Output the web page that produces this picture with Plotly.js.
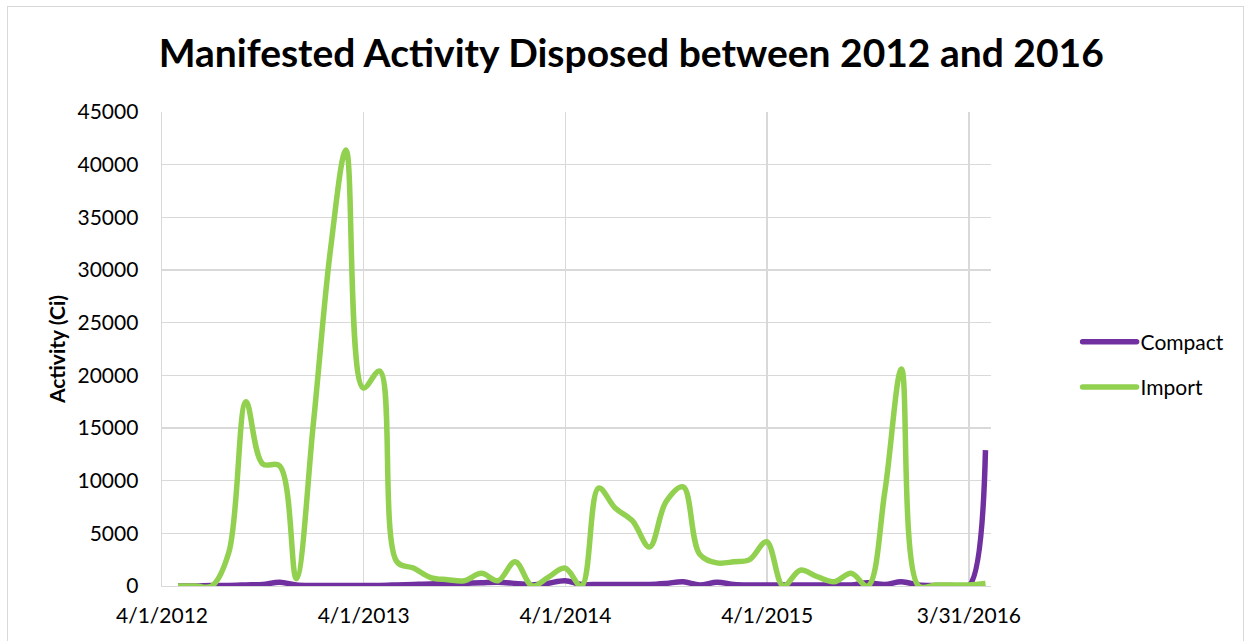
<!DOCTYPE html>
<html>
<head>
<meta charset="utf-8">
<script src="https://cdn.plot.ly/plotly-3.0.1.min.js"></script>
<style>
  html, body { margin: 0; padding: 0; background: #ffffff; }
  #wrap { position: relative; width: 1250px; height: 641px; overflow: hidden; }
  #chart { position: absolute; left: 0; top: 0; width: 1250px; height: 641px; }
  #frame { position: absolute; left: 7px; top: 6px; width: 1235px; height: 650px; border: 1px solid #d9d9d9; pointer-events: none; }
</style>
</head>
<body>
<div id="wrap">
  <div id="chart"></div>
  <div id="frame"></div>
</div>
<script>
// Month-end reporting dates
const dates = [
  '2012-04-30','2012-05-31','2012-06-30','2012-07-31','2012-08-31','2012-09-30','2012-10-31','2012-11-30','2012-12-31',
  '2013-01-31','2013-02-28','2013-03-31','2013-04-30','2013-05-31','2013-06-30','2013-07-31','2013-08-31','2013-09-30','2013-10-31','2013-11-30','2013-12-31',
  '2014-01-31','2014-02-28','2014-03-31','2014-04-30','2014-05-31','2014-06-30','2014-07-31','2014-08-31','2014-09-30','2014-10-31','2014-11-30','2014-12-31',
  '2015-01-31','2015-02-28','2015-03-31','2015-04-30','2015-05-31','2015-06-30','2015-07-31','2015-08-31','2015-09-30','2015-10-31','2015-11-30','2015-12-31',
  '2016-01-31','2016-02-29','2016-03-31','2016-04-30'
];

// Activity (Ci)
const compact = [
  0, 0, 50, 50, 100, 150, 350, 100, 50,
  50, 50, 50, 50, 100, 150, 200, 200, 250, 300, 350, 250,
  100, 250, 500, 150, 150, 150, 150, 150, 250, 400, 100, 350,
  150, 100, 100, 100, 100, 100, 100, 100, 300, 150, 400, 100,
  50, 50, 0, 12900
];
const importAct = [
  0, 0, 0, 3200, 17500, 11600, 11400, 700, 15500,
  32000, 41400, 18800, 20400, 2300, 1700, 800, 600, 500, 1200, 500, 2300,
  0, 800, 1700, 0, 9300, 7400, 6200, 3700, 8000, 9400, 3000, 2200,
  2300, 2500, 4200, 0, 1500, 900, 400, 1200, 0, 9000, 20600, 0,
  100, 100, 100, 250
];

const seriesNames = ['Compact', 'Import'];
const tickDates = ['2012-04-01', '2013-04-01', '2014-04-01', '2015-04-01', '2016-03-31'];
const tickLabels = ['4/1/2012', '4/1/2013', '4/1/2014', '4/1/2015', '3/31/2016'];
const yTicks = [0, 5000, 10000, 15000, 20000, 25000, 30000, 35000, 40000, 45000];
const yTickLabels = ['0', '5000', '10000', '15000', '20000', '25000', '30000', '35000', '40000', '45000'];

const FONT = 'Lato, "Open Sans", sans-serif';

const traces = [
  {
    x: dates, y: compact, name: seriesNames[0], type: 'scatter', mode: 'lines',
    line: { color: '#7030A0', width: 5.5, shape: 'spline', smoothing: 1 },
    legendgroup: 'a', cliponaxis: false, hoverinfo: 'skip'
  },
  {
    x: dates, y: importAct, name: seriesNames[1], type: 'scatter', mode: 'lines',
    line: { color: '#92D050', width: 5.5, shape: 'spline', smoothing: 1 },
    legendgroup: 'b', cliponaxis: false, hoverinfo: 'skip'
  }
];

const layout = {
  width: 1250, height: 641,
  margin: { l: 162, r: 259, t: 112, b: 55, pad: 0 },
  paper_bgcolor: 'rgba(0,0,0,0)', plot_bgcolor: '#ffffff',
  font: { family: FONT, size: 21, color: '#000000' },
  title: {
    text: '<b>Manifested Activity Disposed between 2012 and 2016</b>',
    font: { family: FONT, size: 39, color: '#000000' },
    x: 0.505, xanchor: 'center', xref: 'container',
    y: 0.917, yanchor: 'middle', yref: 'container'
  },
  xaxis: {
    type: 'date',
    range: ['2012-04-01', '2016-05-10'],
    tickmode: 'array', tickvals: tickDates, ticktext: tickLabels,
    showgrid: true, gridcolor: '#d9d9d9', gridwidth: 1.4,
    showline: true, linecolor: '#d9d9d9', linewidth: 1.4,
    zeroline: false,
    ticks: 'outside', ticklen: 10, tickcolor: 'rgba(0,0,0,0)',
    tickfont: { family: FONT, size: 21, color: '#000000' },
    fixedrange: true
  },
  yaxis: {
    range: [0, 45000],
    tickmode: 'array', tickvals: yTicks, ticktext: yTickLabels,
    showgrid: true, gridcolor: '#d9d9d9', gridwidth: 1.4,
    showline: true, linecolor: '#d9d9d9', linewidth: 1.4,
    zeroline: false,
    ticks: 'outside', ticklen: 18, tickcolor: 'rgba(0,0,0,0)',
    tickfont: { family: FONT, size: 21, color: '#000000' },
    title: { text: '<b>Activity (Ci)</b>', font: { family: FONT, size: 21, color: '#000000' }, standoff: 6 },
    fixedrange: true
  },
  showlegend: true,
  legend: {
    x: 1.096, xanchor: 'left', y: 0.467, yanchor: 'middle',
    traceorder: 'grouped', tracegroupgap: 15,
    itemwidth: 60,
    font: { family: FONT, size: 21, color: '#000000' },
    bgcolor: 'rgba(0,0,0,0)', borderwidth: 0
  },
  hovermode: false
};

Plotly.newPlot('chart', traces, layout, { displayModeBar: false, staticPlot: true }).then(function (gd) {
  // Lengthen legend line samples so they sit right before the text (as in the original)
  const items = gd.querySelectorAll('.legend .traces');
  items.forEach(function (it) {
    const txt = it.querySelector('.legendtext');
    const tx = txt ? parseFloat(txt.getAttribute('x')) : 40;
    it.querySelectorAll('.legendlines path').forEach(function (p) {
      p.setAttribute('d', 'M' + (tx - 58) + ',0h54');
      p.style.strokeLinecap = 'round';
    });
  });
});
</script>
</body>
</html>
